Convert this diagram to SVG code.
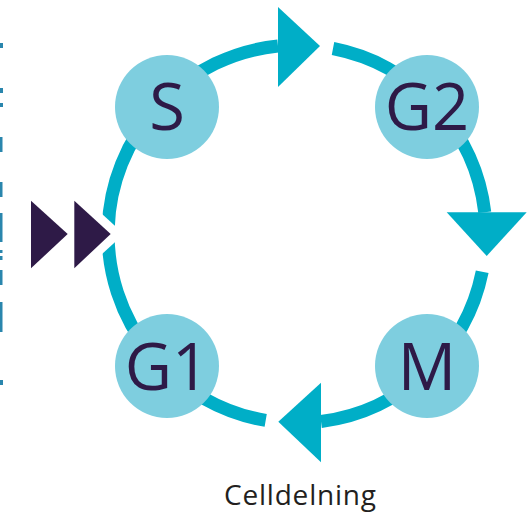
<svg xmlns="http://www.w3.org/2000/svg" width="527" height="513" viewBox="0 0 527 513">
<style>
.ring{fill:none;stroke:#00AEC7;stroke-width:13;stroke-linecap:butt}
.head{fill:#00AEC7}
.node{fill:#7ECEDF}
.lbl{font-family:"Open Sans","DejaVu Sans",sans-serif;font-size:65px;fill:#2E1A47;text-anchor:middle}
.play{fill:#2E1A47}
.cap{font-family:"Open Sans","DejaVu Sans",sans-serif;font-size:28px;fill:#231F20;text-anchor:middle}
.edge{fill:#2A86AD}
</style>
<rect width="527" height="513" fill="#ffffff"/>
<g id="edge-marks">
<rect class="edge" x="0" y="43" width="3" height="5"/>
<rect class="edge" x="0" y="88" width="3" height="5"/>
<rect class="edge" x="0" y="103" width="3" height="4"/>
<rect class="edge" x="0" y="137" width="2.5" height="15"/>
<rect class="edge" x="0" y="182" width="2.5" height="15"/>
<rect class="edge" x="0" y="213" width="2.5" height="29"/>
<rect class="edge" x="0" y="250" width="2.5" height="3"/>
<rect class="edge" x="0" y="256" width="2.5" height="4"/>
<rect class="edge" x="0" y="270" width="2.5" height="15"/>
<rect class="edge" x="0" y="302" width="2.5" height="30"/>
<rect class="edge" x="0" y="380" width="3" height="5"/>
</g>
<g id="connectors">
<path class="ring" d="M265.7 420.4 A189 189 0 0 1 278 46"/>
<path class="ring" d="M333 48.5 A189 189 0 0 1 484.75 212.3"/>
<path class="ring" d="M482.2 271.7 A189 189 0 0 1 321 421.5"/>
<polygon class="head" points="278,7 278,87 320,46"/>
<polygon class="head" points="446.7,212.3 526.7,212.3 486.7,256"/>
<polygon class="head" points="321,382.7 321,462.3 278.3,421.7"/>
</g>
<g id="entry">
<polygon fill="#ffffff" points="60,175.5 123.9,234 60,292.5"/>
<polygon class="play" points="31,200.7 31,268.3 67.7,234"/>
<polygon class="play" points="74.3,200.7 74.3,268.3 110.7,234"/>
</g>
<g id="node-S">
<circle class="node" cx="167" cy="107" r="52"/>
<text class="lbl" x="167" y="130">S</text>
</g>
<g id="node-G2">
<circle class="node" cx="427" cy="107" r="52"/>
<text class="lbl" x="427" y="130">G2</text>
</g>
<g id="node-G1">
<circle class="node" cx="167" cy="366" r="52"/>
<text class="lbl" x="167" y="390">G1</text>
</g>
<g id="node-M">
<circle class="node" cx="427" cy="366" r="52"/>
<text class="lbl" x="427" y="390">M</text>
</g>
<g id="caption">
<text class="cap" x="300" y="505" textLength="152" lengthAdjust="spacing">Celldelning</text>
</g>
</svg>
